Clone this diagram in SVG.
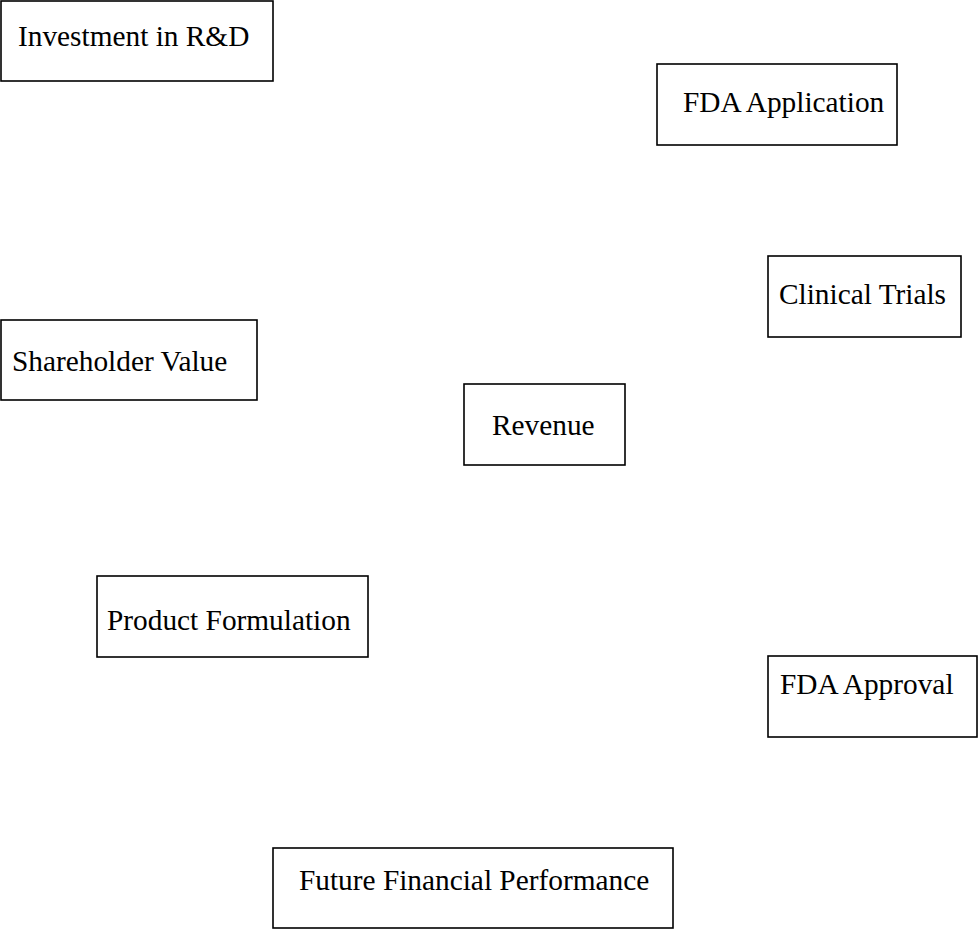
<svg xmlns="http://www.w3.org/2000/svg" width="980" height="930" viewBox="0 0 980 930">
<style>
.box{fill:#fff;stroke:#000;stroke-width:1.6}
.lbl{font-family:"Liberation Serif","Times New Roman",serif;font-size:29.33px;fill:#000}
</style>
<rect width="980" height="930" fill="#fff"/>
<g id="connectors"></g>
<g id="n-investment"><rect class="box" x="1" y="1" width="272" height="80"/><text class="lbl" x="18" y="46">Investment in R&amp;D</text></g>
<g id="n-fda-application"><rect class="box" x="657" y="64" width="240" height="81"/><text class="lbl" x="683" y="112">FDA Application</text></g>
<g id="n-clinical-trials"><rect class="box" x="768" y="256" width="193" height="81"/><text class="lbl" x="779" y="304">Clinical Trials</text></g>
<g id="n-shareholder-value"><rect class="box" x="1" y="320" width="256" height="80"/><text class="lbl" x="12" y="371">Shareholder Value</text></g>
<g id="n-revenue"><rect class="box" x="464" y="384" width="161" height="81"/><text class="lbl" x="492" y="435">Revenue</text></g>
<g id="n-product-formulation"><rect class="box" x="97" y="576" width="271" height="81"/><text class="lbl" x="107" y="630">Product Formulation</text></g>
<g id="n-fda-approval"><rect class="box" x="768" y="656" width="209" height="81"/><text class="lbl" x="780" y="694">FDA Approval</text></g>
<g id="n-future-financial"><rect class="box" x="273" y="848" width="400" height="80"/><text class="lbl" x="299" y="890">Future Financial Performance</text></g>
</svg>
